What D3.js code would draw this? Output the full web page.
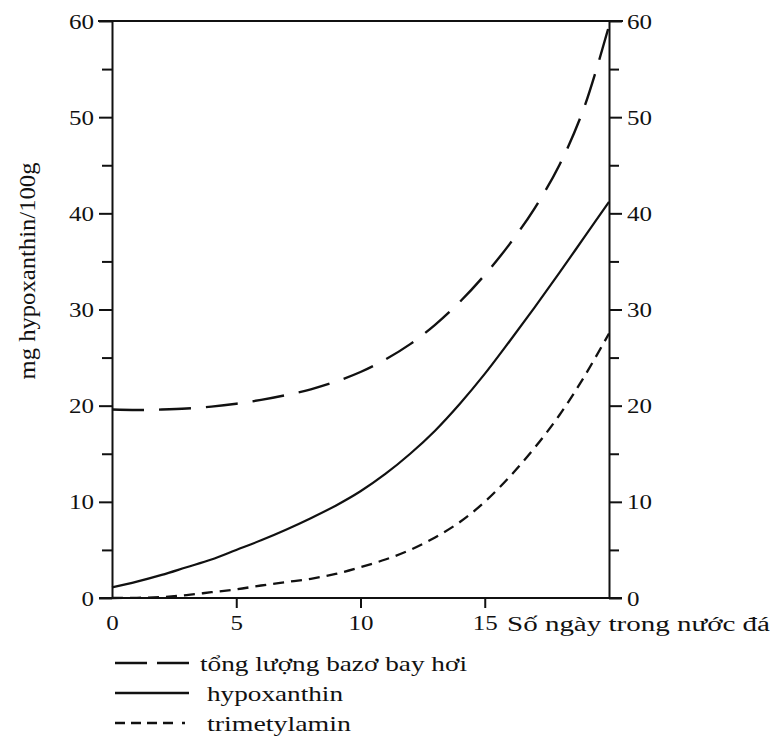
<!DOCTYPE html>
<html>
<head>
<meta charset="utf-8">
<script src="https://cdn.jsdelivr.net/npm/d3@7"></script>
<style>
  body { margin: 0; background: #fff; }
  text { font-family: "Liberation Serif", "DejaVu Serif", serif; fill: #111; }
</style>
</head>
<body>
<div class="chart"></div>
<script>
// days in ice water
var days = [0, 1, 2, 3, 4, 5, 6, 7, 8, 9, 10, 11, 12, 13, 14, 15, 16, 17, 18, 19, 20];
// total volatile bases (long dashes)
var tvbValues = [19.6, 19.55, 19.6, 19.7, 19.9, 20.2, 20.6, 21.1, 21.7, 22.5, 23.5, 24.8, 26.4, 28.4, 30.8, 33.6, 36.8, 40.5, 45.0, 51.0, 59.5];
// hypoxanthin (solid)
var hypoValues = [1.1, 1.7, 2.4, 3.2, 4.0, 5.0, 6.0, 7.1, 8.3, 9.6, 11.1, 12.9, 15.0, 17.4, 20.2, 23.3, 26.7, 30.2, 33.8, 37.5, 41.2];
// trimetylamin (short dashes)
var tmaValues = [0, 0.02, 0.1, 0.3, 0.6, 0.9, 1.3, 1.65, 2.0, 2.5, 3.2, 4.0, 5.0, 6.3, 7.9, 10.0, 12.6, 15.6, 19.0, 23.0, 27.5];

var xTicks = [0, 5, 10, 15];
var yTicks = [0, 5, 10, 15, 20, 25, 30, 35, 40, 45, 50, 55, 60];
var yLabels = [0, 10, 20, 30, 40, 50, 60];

var xTitle = "Số ngày trong nước đá";
var yTitle = "mg hypoxanthin/100g";
var legendNames = ["tổng lượng bazơ bay hơi", "hypoxanthin", "trimetylamin"];

var svgWidth = 772;
var svgHeight = 745;
var margin = { top: 21, right: 163, bottom: 147, left: 112 };
var width = svgWidth - margin.left - margin.right;
var height = svgHeight - margin.top - margin.bottom;

var svg = d3.select(".chart")
  .append("svg")
  .attr("width", svgWidth)
  .attr("height", svgHeight);

var chartGroup = svg.append("g")
  .attr("transform", `translate(${margin.left}, ${margin.top})`);

var xScale = d3.scaleLinear().domain([0, 20]).range([0, width]);
var yScale = d3.scaleLinear().domain([0, 60]).range([height, 0]);

var ink = "#111";
// the scan is stretched sideways, so digits get a bit of extra width
var digitW = 12.5;

// frame lines: top and bottom run a little past both axes
chartGroup.append("line")
  .attr("x1", -14).attr("x2", width + 14)
  .attr("y1", 0).attr("y2", 0)
  .attr("stroke", ink).attr("stroke-width", 2);
chartGroup.append("line")
  .attr("x1", -13).attr("x2", width + 13)
  .attr("y1", height).attr("y2", height)
  .attr("stroke", ink).attr("stroke-width", 2);

// left axis
var leftAxis = d3.axisLeft(yScale)
  .tickValues(yTicks)
  .tickSize(0)
  .tickFormat(d => yLabels.indexOf(d) >= 0 ? d : "");
var gLeft = chartGroup.append("g").call(leftAxis);
gLeft.select(".domain").attr("stroke", ink).attr("stroke-width", 2);
gLeft.selectAll(".tick line")
  .attr("x2", d => yLabels.indexOf(d) >= 0 ? -13 : -10)
  .attr("stroke", ink).attr("stroke-width", 2);
gLeft.selectAll(".tick text")
  .attr("x", -18)
  .attr("dy", "0.35em")
  .attr("font-size", 20)
  .attr("font-family", "Liberation Serif")
  .attr("fill", ink)
  .attr("textLength", d => String(d).length * digitW)
  .attr("lengthAdjust", "spacingAndGlyphs");

// right axis
var rightAxis = d3.axisRight(yScale)
  .tickValues(yTicks)
  .tickSize(0)
  .tickFormat(d => yLabels.indexOf(d) >= 0 ? d : "");
var gRight = chartGroup.append("g")
  .attr("transform", `translate(${width}, 0)`)
  .call(rightAxis);
gRight.select(".domain").attr("stroke", ink).attr("stroke-width", 2);
gRight.selectAll(".tick line")
  .attr("x2", d => yLabels.indexOf(d) >= 0 ? 13 : 10)
  .attr("stroke", ink).attr("stroke-width", 2);
gRight.selectAll(".tick text")
  .attr("x", 18)
  .attr("dy", "0.35em")
  .attr("font-size", 20)
  .attr("font-family", "Liberation Serif")
  .attr("fill", ink)
  .attr("textLength", d => String(d).length * digitW)
  .attr("lengthAdjust", "spacingAndGlyphs");

// bottom axis, ticks hang below the line
var bottomAxis = d3.axisBottom(xScale)
  .tickValues(xTicks)
  .tickSize(10)
  .tickPadding(8);
var gBottom = chartGroup.append("g")
  .attr("transform", `translate(0, ${height})`)
  .call(bottomAxis);
gBottom.select(".domain").remove();
gBottom.selectAll(".tick line").attr("stroke", ink).attr("stroke-width", 2)
  .attr("opacity", d => d === 0 ? 0 : 1);
gBottom.selectAll(".tick text")
  .attr("font-size", 20)
  .attr("font-family", "Liberation Serif")
  .attr("fill", ink)
  .attr("textLength", d => String(d).length * digitW)
  .attr("lengthAdjust", "spacingAndGlyphs");

chartGroup.append("text")
  .attr("x", 395)
  .attr("y", height + 33)
  .attr("font-size", 20)
  .attr("textLength", 263)
  .attr("lengthAdjust", "spacingAndGlyphs")
  .text(xTitle);

// y title
svg.append("text")
  .attr("transform", "translate(35, 271) rotate(-90)")
  .attr("text-anchor", "middle")
  .attr("font-size", 23)
  .attr("textLength", 217)
  .attr("lengthAdjust", "spacingAndGlyphs")
  .text(yTitle);

// curves
var line = d3.line()
  .x(d => xScale(d[0]))
  .y(d => yScale(d[1]))
  .curve(d3.curveCatmullRom.alpha(0.5));

var series = [
  { pts: d3.zip(days, tvbValues), dash: "32,15", w: 2.4 },
  { pts: d3.zip(days, hypoValues), dash: null, w: 2.2 },
  { pts: d3.zip(days, tmaValues), dash: "11,7", w: 2.3 }
];

chartGroup.selectAll(".curve")
  .data(series)
  .enter()
  .append("path")
  .attr("class", "curve")
  .attr("d", d => line(d.pts))
  .attr("fill", "none")
  .attr("stroke", ink)
  .attr("stroke-width", d => d.w)
  .attr("stroke-dasharray", d => d.dash);

// legend
var legendDash = ["32,10", null, "10,6,10,6,10,6,10,9,3,20"];
var legendWidths = [267, 136, 144];
var legend = svg.selectAll(".legend")
  .data(legendNames)
  .enter()
  .append("g")
  .attr("class", "legend")
  .attr("transform", (d, i) => `translate(115, ${663 + i * 30})`);

legend.append("line")
  .attr("x1", 0).attr("x2", 74)
  .attr("y1", 0).attr("y2", 0)
  .attr("stroke", ink)
  .attr("stroke-width", 2.4)
  .attr("stroke-dasharray", (d, i) => legendDash[i]);

legend.append("text")
  .attr("x", (d, i) => i === 0 ? 85 : 92)
  .attr("y", 8)
  .attr("font-size", 21)
  .attr("textLength", (d, i) => legendWidths[i])
  .attr("lengthAdjust", "spacingAndGlyphs")
  .text(d => d);
</script>
</body>
</html>
